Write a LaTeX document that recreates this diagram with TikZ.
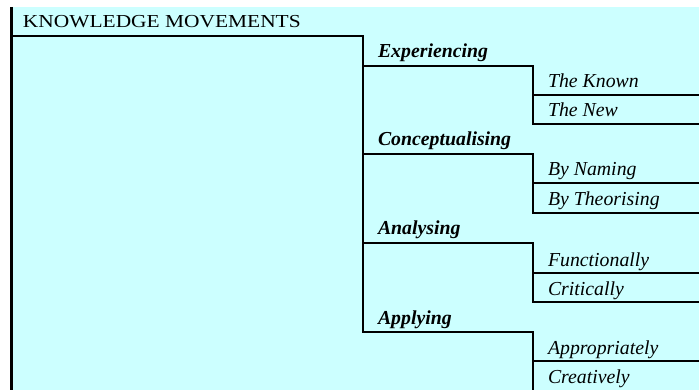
\documentclass[tikz,border=0pt]{standalone}
\usepackage{fontspec}
\setmainfont{Liberation Serif}
\newfontfamily\headfont[FakeStretch=1.17]{Liberation Serif}
\definecolor{panel}{RGB}{204,255,255}
% a fixed-width cell: width, left indent, depth below the baseline, text
\newcommand\cellrow[4]{\makebox[#1][l]{\hspace*{#2}\rule[-#3]{0pt}{#3}#4}}
\begin{document}
\begin{tikzpicture}[x=1pt,y=-1pt,
  cell/.style={anchor=south west,inner sep=0pt,outer sep=0pt},
  head/.style={cell,font=\headfont\fontsize{18.3}{20}\selectfont},
  stage/.style={cell,font=\fontsize{19.8}{22}\selectfont\bfseries\itshape},
  mode/.style={cell,font=\fontsize{19.8}{22}\selectfont\itshape},
  bar/.style={draw=black,line width=2pt,line cap=rect,line join=miter}]
  \useasboundingbox (0,0) rectangle (699,390);
  % panel and its left edge
  \fill[panel] (11,7) rectangle (699,390);
  \draw[line width=2.6pt] (11.2,7) -- (11.2,390);

  % title
  \node[head] (title) at (11,36) {\cellrow{352pt}{12pt}{8pt}{KNOWLEDGE MOVEMENTS}};

  % the four movements
  \node[stage] (exp)  at (363,66)  {\cellrow{170pt}{15pt}{8pt}{Experiencing}};
  \node[stage] (con)  at (363,154) {\cellrow{170pt}{15pt}{8pt}{Conceptualising}};
  \node[stage] (ana)  at (363,243) {\cellrow{170pt}{15pt}{8pt}{Analysing}};
  \node[stage] (app)  at (363,332) {\cellrow{170pt}{15pt}{8pt}{Applying}};

  % their two modes each
  \node[mode] (known) at (533,95)  {\cellrow{166pt}{15pt}{7pt}{The Known}};
  \node[mode] (new)   at (533,124) {\cellrow{166pt}{15pt}{7pt}{The New}};
  \node[mode] (name)  at (533,183) {\cellrow{166pt}{15pt}{7pt}{By Naming}};
  \node[mode] (theo)  at (533,213) {\cellrow{166pt}{15pt}{7pt}{By Theorising}};
  \node[mode] (func)  at (533,273) {\cellrow{166pt}{15pt}{7pt}{Functionally}};
  \node[mode] (crit)  at (533,302) {\cellrow{166pt}{15pt}{7pt}{Critically}};
  \node[mode] (appr)  at (533,361) {\cellrow{166pt}{15pt}{7pt}{Appropriately}};
  \node[mode] (crea)  at (533,390) {\cellrow{166pt}{15pt}{7pt}{Creatively}};

  % trunk
  \draw[bar] (title.south west) -- (title.south east) -- (app.south west);

  % brackets from each movement to its modes
  \draw[bar] (exp.south west) -- (exp.south east) -- (new.south west) -- (new.south east);
  \draw[bar] (known.south west) -- (known.south east);
  \draw[bar] (con.south west) -- (con.south east) -- (theo.south west) -- (theo.south east);
  \draw[bar] (name.south west) -- (name.south east);
  \draw[bar] (ana.south west) -- (ana.south east) -- (crit.south west) -- (crit.south east);
  \draw[bar] (func.south west) -- (func.south east);
  \draw[bar] (app.south west) -- (app.south east) -- (crea.south west);
  \draw[bar] (appr.south west) -- (appr.south east);
\end{tikzpicture}
\end{document}
